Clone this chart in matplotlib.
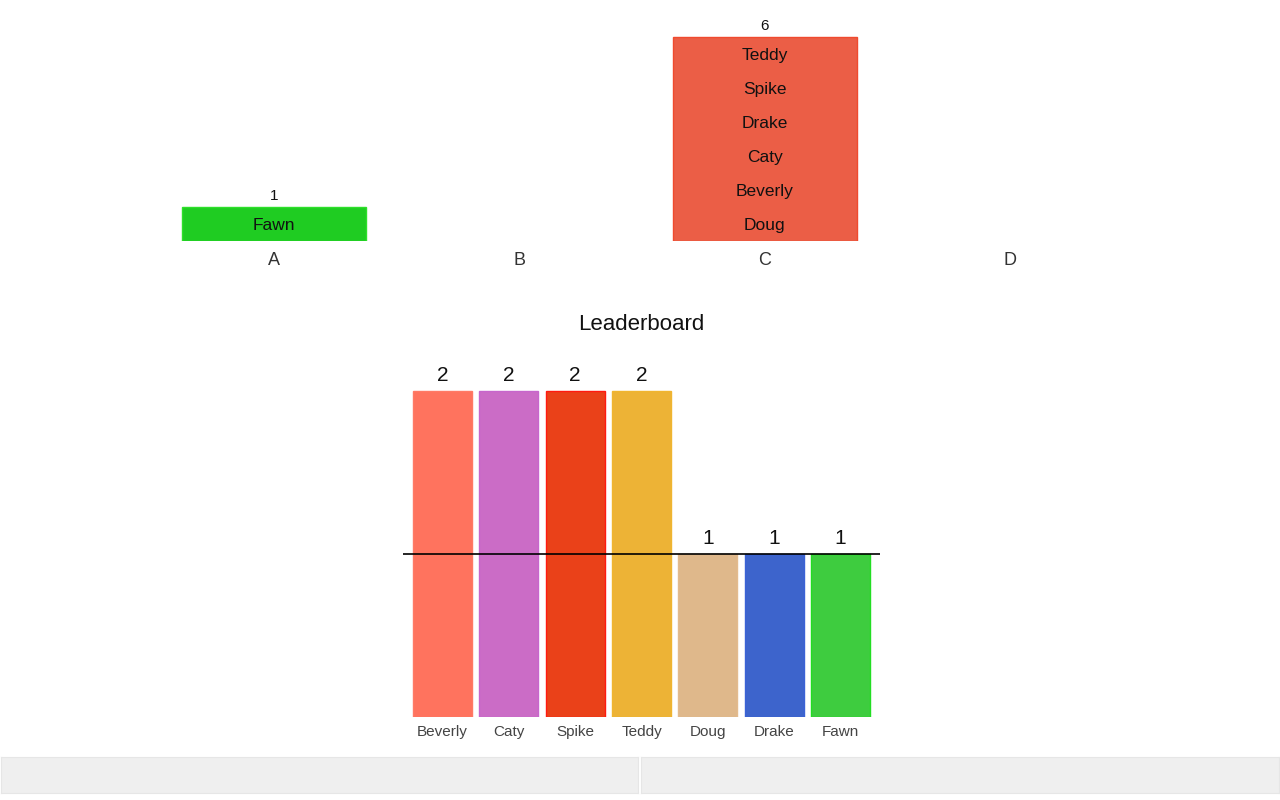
import matplotlib.pyplot as plt

plt.rcParams['font.family'] = ['Liberation Sans', 'DejaVu Sans']

# top: who is in which group, bottom to top
groups = ['A', 'B', 'C', 'D']
members = {
    'A': ['Fawn'],
    'B': [],
    'C': ['Doug', 'Beverly', 'Caty', 'Drake', 'Spike', 'Teddy'],
    'D': [],
}
group_colors = {'A': '#1fcc22', 'C': '#eb5e46'}
group_edges = {'A': '#2ee02a', 'C': '#f04a2e'}

# bottom: leaderboard
names = ['Beverly', 'Caty', 'Spike', 'Teddy', 'Doug', 'Drake', 'Fawn']
scores = [2, 2, 2, 2, 1, 1, 1]
bar_colors = ['#ff735e', '#cb6cc6', '#ea4119', '#edb336', '#dfb88b', '#3d64cc', '#3ecc3f']
bar_edges = ['#ff7a66', '#c766cc', '#ff1a10', '#f0b530', '#e3bb8e', '#3a62d6', '#22dd22']
line_level = 1

W, H = 1280, 800
fig = plt.figure(figsize=(12.8, 8), dpi=100)

# ---- top group chart ----
unit_px = 34
ax1 = fig.add_axes([151 / W, (H - 241) / H, (1133 - 151) / W, 241 / H])
for i, g in enumerate(groups):
    people = members[g]
    n = len(people)
    if n == 0:
        continue
    ax1.bar(i, n, width=0.75, color=group_colors[g], edgecolor=group_edges[g], linewidth=1)
    for j, p in enumerate(people):
        ax1.text(i, j + 0.45, p, ha='center', va='center', fontsize=12.5, color='#111111')
    ax1.text(i, n + 0.32, str(n), ha='center', va='center', fontsize=11, color='#111111')
ax1.set_xlim(-0.5, len(groups) - 0.5)
ax1.set_ylim(0, 241 / unit_px)
ax1.set_xticks(range(len(groups)))
ax1.set_xticklabels(groups, fontsize=13, color='#333333')
ax1.tick_params(axis='x', length=0, pad=8)
ax1.set_yticks([])
for s in ax1.spines.values():
    s.set_visible(False)

# ---- leaderboard ----
score_px = 163
ax_top = 345
ax2 = fig.add_axes([402.7 / W, (H - 717) / H, (880.3 - 402.7) / W, (717 - ax_top) / H])
x = range(len(names))
ax2.bar(x, scores, width=0.89, color=bar_colors, edgecolor=bar_edges, linewidth=1)
for i, v in enumerate(scores):
    ax2.text(i, v + 0.095, str(v), ha='center', va='center', fontsize=15, color='#111111')
ax2.axhline(line_level, color='black', linewidth=1.2)
ax2.set_xlim(-0.6, len(names) - 0.4)
ax2.set_ylim(0, (717 - ax_top) / score_px)
ax2.set_xticks(list(x))
ax2.set_xticklabels(names, fontsize=11, color='#444444')
ax2.tick_params(axis='x', length=0, pad=6)
ax2.set_yticks([])
for s in ax2.spines.values():
    s.set_visible(False)
ax2.set_title('Leaderboard', fontsize=16, pad=11, color='#111111')

# grey footer strips
for left, right in [(1, 638), (641, 1279)]:
    fa = fig.add_axes([left / W, (H - 793) / H, (right - left) / W, 36 / H])
    fa.set_facecolor('#efefef')
    fa.set_xticks([])
    fa.set_yticks([])
    for s in fa.spines.values():
        s.set_color('#e6e6e6')

fig.savefig('out.png', dpi=100)
